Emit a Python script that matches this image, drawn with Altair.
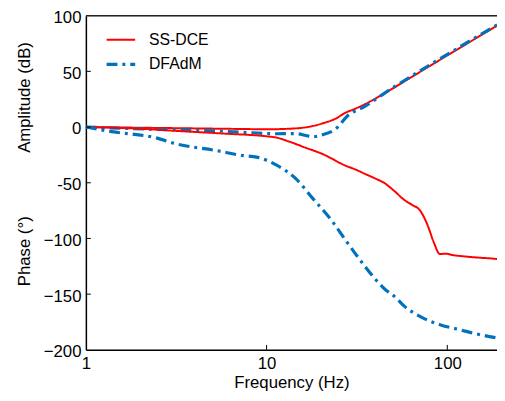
import altair as alt
import pandas as pd

# ---- data ----
ss_amp_f = [1, 2, 4, 7, 10, 14.5, 18, 20.4, 24, 27.2, 31, 35, 45, 70, 100, 140, 190]
ss_amp_v = [0, -0.6, -1.2, -1.7, -2.0, -1.2, 0.9, 3.3, 7.4, 12.7, 16.5, 20.5, 30.4, 49.1, 64.3, 78.5, 91.4]

df_amp_f = [1, 1.5, 2.4, 3.2, 5.3, 8.0, 11.3, 14.5, 16.5, 18, 20.6, 24, 28.3, 35, 45, 70, 100, 140, 190]
df_amp_v = [0, -1.0, -2.0, -2.5, -3.5, -5.0, -6.0, -5.9, -7.6, -8.8, -6.7, -2.0, 10.6, 18.5, 30.5, 50.0, 65.2, 79.3, 92.0]

ss_ph_f = [1, 2, 3.2, 6, 10, 11.3, 13.3, 16.4, 20.4, 27.2, 30.9, 35, 39.7, 45, 51, 57.9, 64.1, 70.2,
           77.6, 84.2, 91, 98, 108, 122, 152, 179, 190]
ss_ph_v = [0, -1.5, -3.5, -6.0, -8.3, -9.4, -13.0, -18.5, -24.2, -34.5, -38.0, -42.0, -46.0, -50.4, -57.5,
           -65.5, -70.0, -74.3, -87.6, -103.5, -114.0, -113.7, -115.0, -116.0, -117.3, -118.1, -118.6]

df_ph_f = [1, 1.39, 2.41, 3.2, 5.32, 7.46, 8.8, 11.3, 14.5, 18, 23.1, 27.2, 32.1, 39.7, 45.5, 51, 58,
           70.5, 92, 118, 139, 190]
df_ph_v = [0, -4.1, -9.5, -15.3, -21.2, -25.7, -27.0, -34.0, -46.3, -64.0, -84.7, -100.9, -117.0, -136.0,
           -146.0, -152.0, -161.0, -170.0, -177.6, -182.0, -185.0, -189.4]

series_names = ["SS-DCE", "DFAdM"]
series_colors = ["#ff0000", "#0072bd"]
series_dash = [[1, 0], [11, 5, 3, 5]]
series_width = [2.0, 3.2]

x_tick_vals = [1, 10, 100]
y_tick_vals = [-200, -150, -100, -50, 0, 50, 100]

rows = []
for f, v in zip(ss_amp_f, ss_amp_v):
    rows.append(dict(freq=f, value=v, series="SS-DCE", curve="SS-DCE amp"))
for f, v in zip(df_amp_f, df_amp_v):
    rows.append(dict(freq=f, value=v, series="DFAdM", curve="DFAdM amp"))
for f, v in zip(ss_ph_f, ss_ph_v):
    rows.append(dict(freq=f, value=v, series="SS-DCE", curve="SS-DCE phase"))
for f, v in zip(df_ph_f, df_ph_v):
    rows.append(dict(freq=f, value=v, series="DFAdM", curve="DFAdM phase"))
df = pd.DataFrame(rows)

W, H = 417, 339
FONT = "Liberation Sans"

x_scale = alt.Scale(type="log", domain=[1, 188.4], nice=False)
y_scale = alt.Scale(domain=[-200, 100], nice=False)

x_axis = alt.Axis(values=x_tick_vals, format="d", title="Frequency (Hz)", grid=False,
                  ticks=False, tickSize=0, labelPadding=6, labelFlush=False,
                  labelFontSize=17, titleFontSize=17, titleFontWeight="normal",
                  titlePadding=3, domainColor="black", domainWidth=1.5,
                  labelColor="black", titleColor="black", labelFont=FONT, titleFont=FONT)
y_axis = alt.Axis(values=y_tick_vals, title=None, grid=False, ticks=False, tickSize=0,
                  labelPadding=5, labelOffset=2, labelFontSize=17, domainColor="black", domainWidth=1.5,
                  labelColor="black", labelFont=FONT,
                  labelExpr="datum.value == -50 ? '-50' : (datum.value < 0 ? '\u2212' + abs(datum.value) : '' + datum.value)")

x_enc = alt.X("freq:Q", scale=x_scale, axis=x_axis)
y_enc = alt.Y("value:Q", scale=y_scale, axis=y_axis)

leg = alt.Legend(title=None, orient="none", legendX=19, legendY=9, symbolType="stroke",
                 symbolSize=841, labelOffset=12, labelFontSize=16, labelFont=FONT,
                 labelColor="black", padding=0, rowPadding=0)

lines = alt.Chart(df).mark_line(clip=True, strokeCap="butt", interpolate="monotone").encode(
    x=x_enc,
    y=y_enc,
    color=alt.Color("series:N", scale=alt.Scale(domain=series_names, range=series_colors), legend=leg),
    strokeDash=alt.StrokeDash("series:N", scale=alt.Scale(domain=series_names, range=series_dash), legend=leg),
    strokeWidth=alt.StrokeWidth("series:N", scale=alt.Scale(domain=series_names, range=series_width), legend=leg),
    detail="curve:N",
)

ytk = pd.DataFrame({"value": [-150, -100, -50, 0, 50]})
ytick_layer = alt.Chart(ytk).mark_rule(color="black", strokeWidth=1).encode(
    y=y_enc, x=alt.value(0), x2=alt.value(5))

xtk = pd.DataFrame({"freq": [10, 100]})
xtick_layer = alt.Chart(xtk).mark_rule(color="black", strokeWidth=1).encode(
    x=x_enc, y=alt.value(H), y2=alt.value(H - 5))

top_border = alt.Chart(pd.DataFrame({"a": [0]})).mark_rule(color="#222", strokeWidth=1.5).encode(
    x=alt.value(0), x2=alt.value(W), y=alt.value(0))

amp_title = alt.Chart(pd.DataFrame({"t": ["Amplitude (dB)"]})).mark_text(
    angle=270, fontSize=17, font=FONT, color="black", align="center", baseline="middle").encode(
    text="t:N", x=alt.value(-62), y=alt.value(83))
ph_title = alt.Chart(pd.DataFrame({"t": ["Phase (\u00b0)"]})).mark_text(
    angle=270, fontSize=17, font=FONT, color="black", align="center", baseline="middle").encode(
    text="t:N", x=alt.value(-62), y=alt.value(239))

chart = alt.layer(lines, ytick_layer, xtick_layer, top_border, amp_title, ph_title).properties(
    width=W, height=H,
    autosize=alt.AutoSizeParams(type="none"),
    padding={"left": 79, "top": 5, "right": 0, "bottom": 41},
).configure_view(strokeWidth=0).configure(font=FONT)

chart.save("out.html", embed_options={"renderer": "svg", "actions": False})
